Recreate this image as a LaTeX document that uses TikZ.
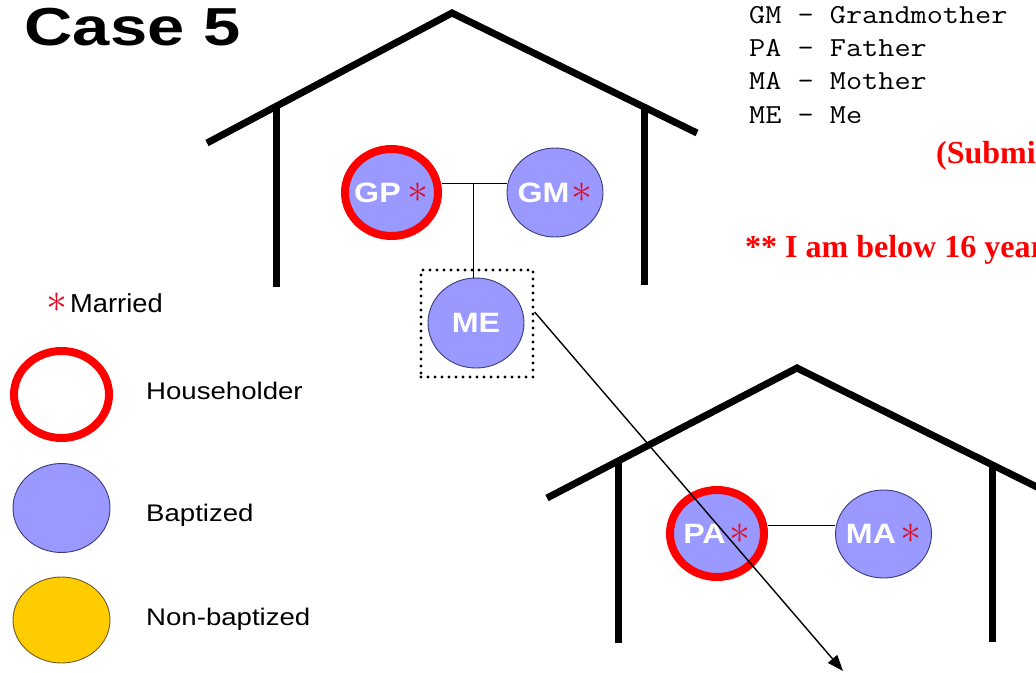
\documentclass[tikz,border=0pt]{standalone}
\usepackage{fontspec}
\usepackage{graphicx}
\setmainfont{Liberation Sans}
\newfontfamily\seriff{Liberation Serif}
\usetikzlibrary{arrows.meta,shapes.geometric}

\definecolor{bap}{HTML}{9999FF}
\definecolor{bord}{HTML}{3A3A7A}
\definecolor{hh}{HTML}{FF0000}
\definecolor{nonbap}{HTML}{FFCC00}
\definecolor{nonbord}{HTML}{6B5B2B}
\definecolor{astred}{HTML}{E0102A}

\newcommand\myast{\textcolor{astred}{\scalebox{4.2}{\normalsize$\ast$}}}
\newcommand\pname[1]{\scalebox{1.15}[1]{\fontsize{28}{28}\selectfont\bfseries #1}}
\newcommand\legtext[1]{\scalebox{1.15}[1]{\fontsize{24}{24}\selectfont #1}}
\newcommand\keytext[1]{\scalebox{1.14}[1]{\fontsize{27.5}{28}\ttfamily #1}}

\tikzset{
  person/.style={ellipse, fill=bap, draw=bord, line width=0.9pt, inner sep=0pt, text=white},
  holder/.style={person, draw=hh, line width=8pt},
  house/.style={line width=7pt, line join=miter},
  link/.style={line width=0.9pt},
  lbl/.style={anchor=base west, inner sep=0pt},
  dotbox/.style={draw, line width=3.2pt, line cap=round, dash pattern=on 0pt off 7pt, minimum width=112pt, minimum height=107pt, inner sep=0pt},
  arrowline/.style={line width=1.4pt, -{Triangle[length=16pt,width=12pt]}}
}

\begin{document}
\begin{tikzpicture}[x=1pt,y=-1pt]
\useasboundingbox (0,0) rectangle (1036,672);
\clip (0,0) rectangle (1036,672);
\fill[white] (0,0) rectangle (1036,672);

% houses
\draw[house] (207,143) -- (452,13) -- (697,133);
\draw[house] (276,106) -- (276,287);
\draw[house] (644,108) -- (644,285);
\draw[house] (547,498) -- (797,368) -- (1047,492);
\draw[house] (618,461) -- (618,643);
\draw[house] (992,465) -- (992,642);

% title
\node[lbl] (title) at (24.5,45) {\scalebox{1.25}[1]{\fontsize{53.5}{54}\selectfont\bfseries Case 5}};

% key list
\node[lbl] (kgm) at (749,23) {\keytext{GM - Grandmother}};
\node[lbl] (kpa) at (749,56) {\keytext{PA - Father}};
\node[lbl] (kma) at (749,89) {\keytext{MA - Mother}};
\node[lbl] (kme) at (749,123) {\keytext{ME - Me}};

% red notes (cut by the right edge, as in the reference)
\node[lbl, text=red] (sub) at (936,163) {\fontsize{32}{32}\seriff\bfseries (Submitted};
\node[lbl, text=red] (note) at (745,257) {\fontsize{32}{32}\seriff\bfseries ** I am below 16 years};

% people, upper house
\node[holder, minimum width=93pt, minimum height=87pt] (gp) at (391.5,192.5) {\makebox[0pt]{\pname{GP}\hspace{7pt}\myast}};
\node[person, minimum width=96pt, minimum height=89pt] (gm) at (555,192.5) {\makebox[0pt]{\pname{GM}\hspace{2pt}\myast}};
\node[person, minimum width=96pt, minimum height=90pt] (me) at (476,323) {\makebox[0pt]{\pname{ME}}};
\node[dotbox] (mebox) at (477,323.5) {};

\coordinate (jn) at (473,183);
\draw[link] (gp.east |- jn) -- (gm.west |- jn);
\draw[link] (jn) -- (jn |- me.north);

% people, lower house
\node[holder, minimum width=94pt, minimum height=87pt] (pa) at (717,533.5) {\makebox[0pt]{\pname{PA}\hspace{4pt}\myast}};
\node[person, minimum width=96pt, minimum height=88pt] (ma) at (883.5,534) {\makebox[0pt]{\pname{MA}\hspace{4pt}\myast}};
\coordinate (jn2) at (800,525);
\draw[link] (pa.east |- jn2) -- (ma.west |- jn2);

% legend
\node[anchor=base, inner sep=0pt] (mast) at (56.5,312) {\myast};
\node[lbl] (mar) at (70,312) {\scalebox{1.05}[1]{\fontsize{26}{26}\selectfont Married}};
\node[holder, fill=white, minimum width=95pt, minimum height=87pt] (lhh) at (61.5,394.5) {};
\node[lbl] (thh) at (146,399) {\legtext{Householder}};
\node[person, minimum width=97pt, minimum height=89pt] (lbap) at (61.5,508) {};
\node[lbl] (tbap) at (146,521) {\legtext{Baptized}};
\node[person, fill=nonbap, draw=nonbord, minimum width=97pt, minimum height=86pt] (lnon) at (61.5,620) {};
\node[lbl] (tnon) at (146,625) {\legtext{Non-baptized}};

% move arrow
\coordinate (tip) at (843,671);
\draw[arrowline] ([yshift=11.5pt]mebox.east) -- (tip);
\end{tikzpicture}
\end{document}
